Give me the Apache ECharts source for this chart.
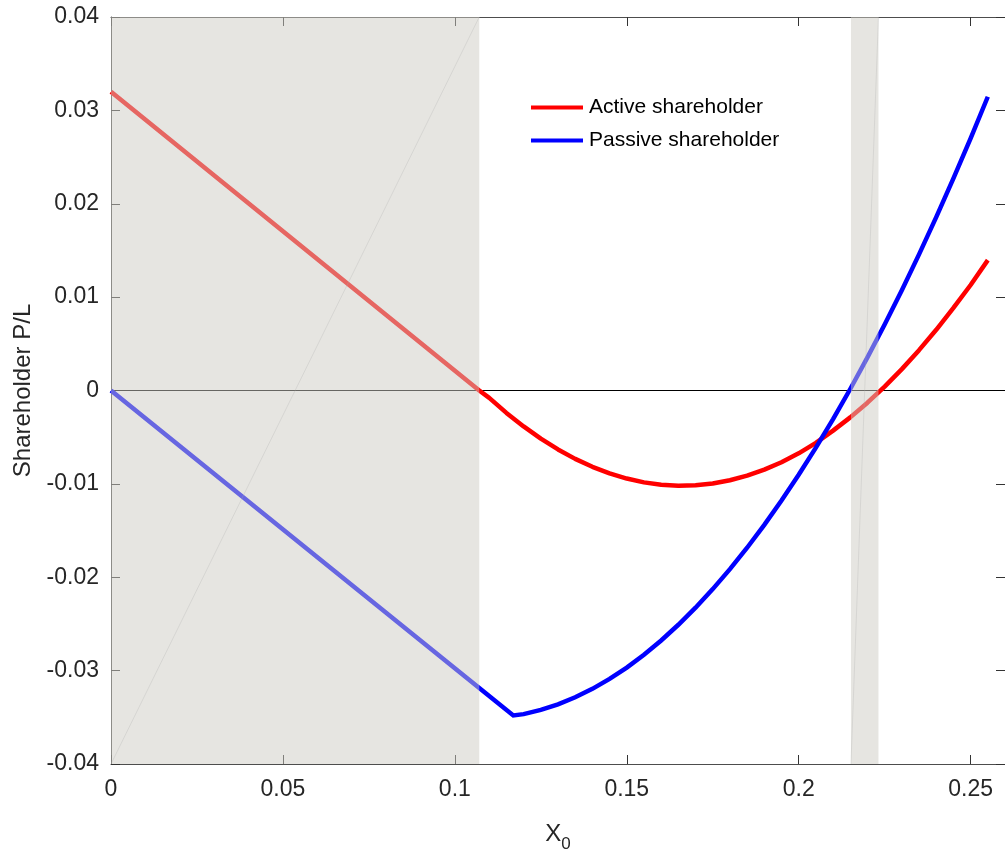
<!DOCTYPE html>
<html>
<head>
<meta charset="utf-8">
<script src="https://cdn.jsdelivr.net/npm/echarts@6/dist/echarts.min.js"></script>
<style>
html,body{margin:0;padding:0;background:#fff;}
#chart{width:1005px;height:858px;}
</style>
</head>
<body>
<div id="chart"></div>
<script>
// ---- data ----
const xTicks = [0, 0.05, 0.1, 0.15, 0.2, 0.25];
const yTicks = [-0.04, -0.03, -0.02, -0.01, 0, 0.01, 0.02, 0.03, 0.04];
const xRange = [0, 0.26];
const yRange = [-0.04, 0.04];

const seriesNames = ['Active shareholder', 'Passive shareholder'];

const activeX = [0, 0.1071, 0.11, 0.115, 0.12, 0.125, 0.13, 0.135, 0.14, 0.145, 0.15, 0.155, 0.16, 0.165, 0.17, 0.175, 0.18, 0.185, 0.19, 0.195, 0.2, 0.205, 0.21, 0.215, 0.22, 0.225, 0.23, 0.235, 0.24, 0.245, 0.25, 0.255];
const activeY = [0.032, 0, -0.00079, -0.0024, -0.00385, -0.00516, -0.00631, -0.00732, -0.00817, -0.00888, -0.00943, -0.00984, -0.01009, -0.0102, -0.01015, -0.00996, -0.00961, -0.00912, -0.00847, -0.00768, -0.00673, -0.00561, -0.0043, -0.00288, -0.00131, 0.00042, 0.00229, 0.00432, 0.0065, 0.00884, 0.0113, 0.01396];

const passiveX = [0, 0.1071, 0.117, 0.12, 0.125, 0.13, 0.135, 0.14, 0.145, 0.15, 0.155, 0.16, 0.165, 0.17, 0.175, 0.18, 0.185, 0.19, 0.195, 0.2, 0.205, 0.21, 0.215, 0.22, 0.225, 0.23, 0.235, 0.24, 0.245, 0.25, 0.255];
const passiveY = [0, -0.03186, -0.0348, -0.03466, -0.03421, -0.03361, -0.03285, -0.03195, -0.03088, -0.02967, -0.0283, -0.02677, -0.02509, -0.02326, -0.02127, -0.01913, -0.01684, -0.01439, -0.01179, -0.00903, -0.00612, -0.00306, 0.00016, 0.00354, 0.00706, 0.01074, 0.01458, 0.01857, 0.02271, 0.02701, 0.03146];

// shaded x-intervals
const shadeStart = [0, 0.2152];
const shadeEnd = [0.1071, 0.2232];

// ---- build ----
const zip = (a, b) => a.map((v, i) => [v, b[i]]);
const FONT = "'Liberation Sans', Arial, Helvetica, sans-serif";
const AX = '#4d4d4d';
const TXT = '#262626';

const chart = echarts.init(document.getElementById('chart'), null, {renderer: 'canvas'});

function fmtX(v) {
  if (Math.abs(v) < 1e-12) return '0';
  if (!xTicks.some(t => Math.abs(t - v) < 1e-9)) return '';
  return String(parseFloat(v.toFixed(4)));
}
function fmtY(v) {
  if (Math.abs(v) < 1e-12) return '0';
  return v.toFixed(2);
}

const axisCommon = {
  type: 'value',
  axisLine: {show: true, onZero: false, lineStyle: {color: AX, width: 1}},
  axisTick: {show: true, inside: true, length: 9, lineStyle: {color: '#333', width: 1}},
  splitLine: {show: false}
};

const option = {
  backgroundColor: '#fff',
  animation: false,
  grid: {left: 111, top: 17, width: 898, height: 756, containLabel: false},
  legend: {
    data: seriesNames,
    orient: 'vertical',
    left: 531,
    top: 97,
    padding: 0,
    itemWidth: 52,
    itemHeight: 4,
    itemGap: 12,
    icon: 'rect',
    textStyle: {fontFamily: FONT, fontSize: 21, color: '#000', padding: [0, 0, 0, 1]}
  },
  xAxis: [
    Object.assign({}, axisCommon, {
      position: 'bottom',
      min: xRange[0], max: xRange[1], interval: 0.05,
      axisLabel: {
        formatter: fmtX, showMaxLabel: false, margin: 14,
        fontFamily: FONT, fontSize: 23, color: TXT
      },
      name: '{x|X}{s|0}',
      nameLocation: 'middle',
      nameGap: 58,
      nameTextStyle: {
        fontFamily: FONT, color: TXT,
        rich: {
          x: {fontFamily: FONT, fontSize: 24, lineHeight: 24, verticalAlign: 'top', color: TXT},
          s: {fontFamily: FONT, fontSize: 17, lineHeight: 17, padding: [14, 0, 0, 0], verticalAlign: 'top', color: TXT}
        }
      }
    }),
    Object.assign({}, axisCommon, {
      position: 'top',
      min: xRange[0], max: xRange[1], interval: 0.05,
      axisLabel: {show: false}
    })
  ],
  yAxis: [
    Object.assign({}, axisCommon, {
      position: 'left',
      min: yRange[0], max: yRange[1], interval: 0.01,
      axisLabel: {formatter: fmtY, margin: 12, fontFamily: FONT, fontSize: 23, color: TXT},
      name: 'Shareholder P/L',
      nameLocation: 'middle',
      nameGap: 65,
      nameTextStyle: {fontFamily: FONT, fontSize: 24, color: TXT}
    }),
    Object.assign({}, axisCommon, {
      position: 'right',
      min: yRange[0], max: yRange[1], interval: 0.01,
      axisLabel: {show: false}
    })
  ],
  series: [
    {
      name: 'zero',
      type: 'line',
      data: [[xRange[0], 0], [xRange[1], 0]],
      symbol: 'none',
      lineStyle: {color: '#000', width: 1},
      z: 1,
      silent: true
    },
    {
      name: seriesNames[0],
      type: 'line',
      data: zip(activeX, activeY),
      symbol: 'none',
      color: '#ff0000',
      lineStyle: {color: '#ff0000', width: 4.5, join: 'round'},
      z: 3
    },
    {
      name: seriesNames[1],
      type: 'line',
      data: zip(passiveX, passiveY),
      symbol: 'none',
      color: '#0000ff',
      lineStyle: {color: '#0000ff', width: 4.5, join: 'miter'},
      z: 4
    },
    {
      name: 'shade',
      type: 'custom',
      data: zip(shadeStart, shadeEnd),
      z: 10,
      silent: true,
      clip: false,
      renderItem: function (params, api) {
        const x0 = api.value(0), x1 = api.value(1);
        const pTL = api.coord([x0, yRange[1]]);
        const pBR = api.coord([x1, yRange[0]]);
        const pBL = api.coord([x0, yRange[0]]);
        const pTR = api.coord([x1, yRange[1]]);
        return {
          type: 'group',
          children: [
            {
              type: 'rect',
              shape: {x: pTL[0], y: pTL[1], width: pBR[0] - pTL[0], height: pBR[1] - pTL[1]},
              style: {fill: 'rgba(205,203,196,0.5)', stroke: null}
            },
            {
              type: 'line',
              shape: {x1: pBL[0], y1: pBL[1], x2: pTR[0], y2: pTR[1]},
              style: {stroke: 'rgba(170,170,170,0.35)', lineWidth: 0.8}
            }
          ]
        };
      }
    }
  ]
};

chart.setOption(option);
</script>
</body>
</html>
